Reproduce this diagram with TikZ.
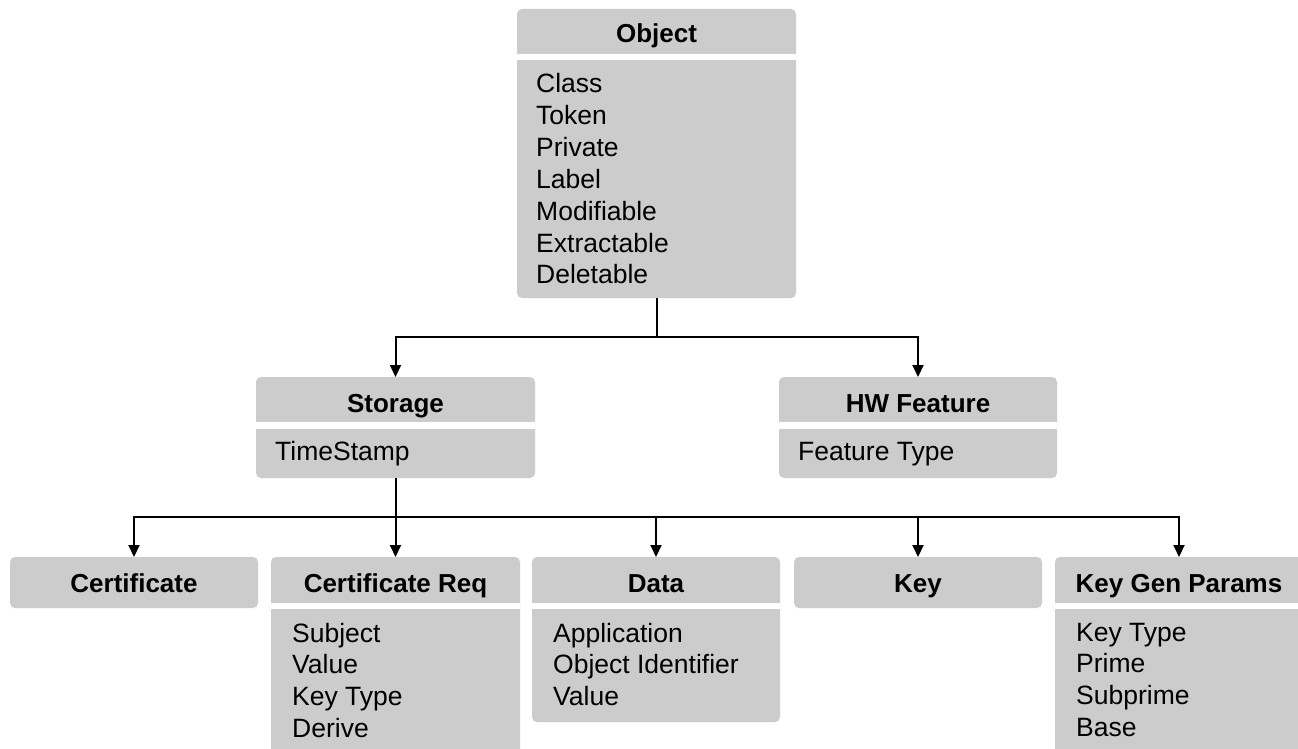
\documentclass[tikz,border=0pt]{standalone}
\usepackage{fontspec}
\setmainfont{Liberation Sans}
\usetikzlibrary{arrows.meta}
\definecolor{boxgray}{HTML}{CCCCCC}
\begin{document}
\begin{tikzpicture}[x=1pt,y=-1pt,
  box/.style={fill=boxgray, rounded corners=5pt, inner sep=0pt, outer sep=0pt, anchor=north west},
  ttl/.style={font=\bfseries\fontsize{26}{30}\selectfont, anchor=base, inner sep=0pt},
  itm/.style={font=\fontsize{26.5}{30}\selectfont, anchor=base west, inner sep=0pt},
  conn/.style={line width=2pt},
  arr/.style={line width=2pt, -{Triangle[length=12pt,width=11pt]}},
  band/.style={fill=white}]
\clip (0,0) rectangle (1298,749);
\fill[white] (0,0) rectangle (1298,749);

% Object
\node[box, minimum width=279pt, minimum height=289pt] (obj) at (517,9) {};
\fill[band] (517,54) rectangle (796,60);
\node[ttl] (objT) at (656.5,43) {Object};
\foreach \t [count=\i] in {Class,Token,Private,Label,Modifiable,Extractable,Deletable}
  \node[itm] (obj\i) at (536,{93+(\i-1)*31.8}) {\t};

% Storage
\node[box, minimum width=279pt, minimum height=101pt] (sto) at (256,377) {};
\fill[band] (256,422) rectangle (535,429);
\node[ttl] (stoT) at (395.5,412) {Storage};
\node[itm] (sto1) at (275,460) {TimeStamp};

% HW Feature
\node[box, minimum width=278pt, minimum height=101pt] (hw) at (779,377) {};
\fill[band] (779,422) rectangle (1057,429);
\node[ttl] (hwT) at (918,412) {HW Feature};
\node[itm] (hw1) at (798,460) {Feature Type};

% Certificate
\node[box, minimum width=248pt, minimum height=51pt] (cert) at (10,557) {};
\node[ttl] (certT) at (134,592) {Certificate};

% Certificate Req
\node[box, minimum width=249pt, minimum height=220pt] (creq) at (271,557) {};
\fill[band] (271,603) rectangle (520,609);
\node[ttl] (creqT) at (395.5,592) {Certificate Req};
\foreach \t [count=\i] in {Subject,Value,Key Type,Derive}
  \node[itm] (creq\i) at (292,{642+(\i-1)*31.7}) {\t};

% Data
\node[box, minimum width=248pt, minimum height=165pt] (data) at (532,557) {};
\fill[band] (532,603) rectangle (780,609);
\node[ttl] (dataT) at (656,592) {Data};
\foreach \t [count=\i] in {Application,Object Identifier,Value}
  \node[itm] (data\i) at (553,{642+(\i-1)*31.7}) {\t};

% Key
\node[box, minimum width=248pt, minimum height=51pt] (key) at (794,557) {};
\node[ttl] (keyT) at (918,592) {Key};

% Key Gen Params
\node[box, minimum width=248pt, minimum height=220pt] (kgp) at (1055,557) {};
\fill[band] (1055,603) rectangle (1303,609);
\node[ttl] (kgpT) at (1179,592) {Key Gen Params};
\foreach \t [count=\i] in {Key Type,Prime,Subprime,Base}
  \node[itm] (kgp\i) at (1076,{641+(\i-1)*31.7}) {\t};

% Connectors
\draw[conn] (obj.south) -- ++(0,39) coordinate (j1);
\draw[arr] (j1) -| (sto.north);
\draw[arr] (j1) -| (hw.north);

\draw[conn] (sto.south) -- ++(0,39) coordinate (j2);
\draw[arr] (j2) -| (cert.north);
\draw[arr] (j2) -- (creq.north);
\draw[arr] (j2) -| (data.north);
\draw[arr] (j2) -| (key.north);
\draw[arr] (j2) -| (kgp.north);
\end{tikzpicture}
\end{document}
